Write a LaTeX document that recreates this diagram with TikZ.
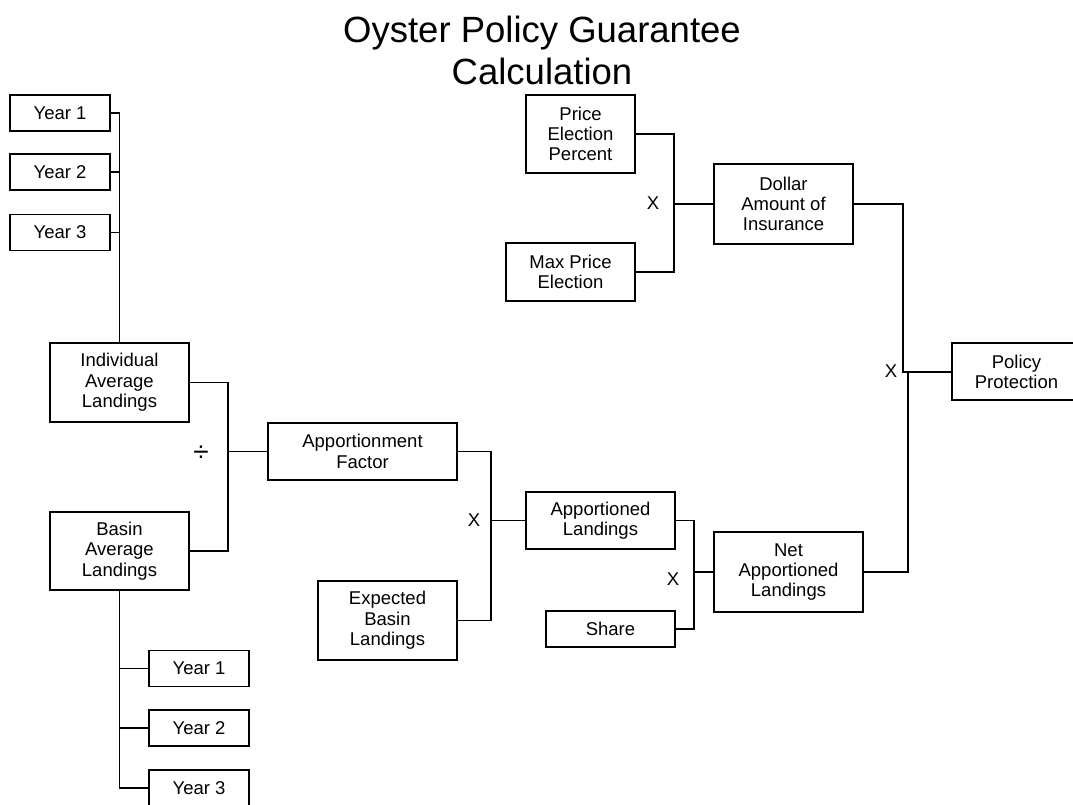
\documentclass[tikz,border=0pt]{standalone}
\usepackage{fontspec}
\setmainfont{Liberation Sans}
\usetikzlibrary{positioning}
\def\mybw{100pt}
\def\mybh{36pt}
\tikzset{
every picture/.style={line width=1.6pt}, % All lines the same
my box/.style={draw,rectangle,align=center,inner sep=0pt,
  font=\fontsize{18.5}{20.3}\selectfont},
year box/.style={my box,minimum width=\mybw,minimum height=\mybh},
op sign/.style={inner sep=0pt,font=\fontsize{18.5}{20.3}\selectfont},
my title/.style={align=center,inner sep=0pt,font=\fontsize{36.5}{42}\selectfont}
}
\begin{document}
\begin{tikzpicture}[x=1pt,y=-1pt]
\useasboundingbox (0,0) rectangle (1073,804);
\node[my title] (ttl) at (542,50) {Oyster Policy Guarantee\\Calculation};
% individual history
\node[year box] (iy1) at (60,113) {Year 1};
\node[year box] (iy2) at (60,172) {Year 2};
\node[year box] (iy3) at (60,232.5) {Year 3};
\node[my box,minimum width=139pt,minimum height=79pt] (ial) at (119.5,382.5)
  {Individual\\Average\\Landings};
% basin history
\node[my box,minimum width=139pt,minimum height=78pt] (bal) at (119.5,551)
  {Basin\\Average\\Landings};
\node[year box] (by1) at (199,668.5) {Year 1};
\node[year box] (by2) at (199,728) {Year 2};
\node[year box] (by3) at (199,788) {Year 3};
% middle row
\node[my box,minimum width=189pt,minimum height=57pt] (apf) at (362.5,451.5)
  {Apportionment\\Factor};
\node[my box,minimum width=139pt,minimum height=79pt] (ebl) at (387.5,620.5)
  {Expected\\Basin\\Landings};
\node[my box,minimum width=149pt,minimum height=57pt] (apl) at (600.5,520.5)
  {Apportioned\\Landings};
\node[my box,minimum width=129pt,minimum height=\mybh] (shr) at (610.5,629)
  {Share};
\node[my box,minimum width=149pt,minimum height=80pt] (nal) at (788.5,572)
  {Net\\Apportioned\\Landings};
% price side
\node[my box,minimum width=109pt,minimum height=78pt] (pep) at (580.5,134)
  {Price\\Election\\Percent};
\node[my box,minimum width=129pt,minimum height=58pt] (mpe) at (570.5,272)
  {Max Price\\Election};
\node[my box,minimum width=139pt,minimum height=80pt] (dai) at (783.5,204)
  {Dollar\\Amount of\\Insurance};
\node[my box,minimum width=129pt,minimum height=57pt] (pop) at (1016.5,371.7)
  {Policy\\Protection};
% junctions
\coordinate (jdiv) at (228,451.5);
\coordinate (jm1) at (491,520.5);
\coordinate (jm2) at (694,572);
\coordinate (jm3) at (674,204);
\coordinate (jtop) at (903,371.7);
\coordinate (jm4) at (908,371.7);
% operators
\node[op sign,font=\fontsize{28}{30}\selectfont] (div) at (201,454) {÷};
\node[op sign] (x1) at (474,520) {X};
\node[op sign] (x2) at (673,579) {X};
\node[op sign] (x3) at (653,203) {X};
\node[op sign] (x4) at (891,371) {X};
% connectors
\draw (iy1.east) -| (ial.north);
\draw (iy2.east) -- (iy2.east -| ial.north);
\draw (iy3.east) -- (iy3.east -| ial.north);
\draw (bal.south) |- (by3.west);
\draw (by1.west) -- (by1.west -| bal.south);
\draw (by2.west) -- (by2.west -| bal.south);
\draw (ial.east) -| (jdiv) |- (bal.east);
\draw (jdiv) -- (apf.west);
\draw (apf.east) -| (jm1) |- (ebl.east);
\draw (jm1) -- (apl.west);
\draw (apl.east) -| (jm2) |- (shr.east);
\draw (jm2) -- (nal.west);
\draw (pep.east) -| (jm3) |- (mpe.east);
\draw (jm3) -- (dai.west);
\draw (dai.east) -| (jtop) -- (pop.west);
\draw (nal.east) -| (jm4);
\end{tikzpicture}
\end{document}
